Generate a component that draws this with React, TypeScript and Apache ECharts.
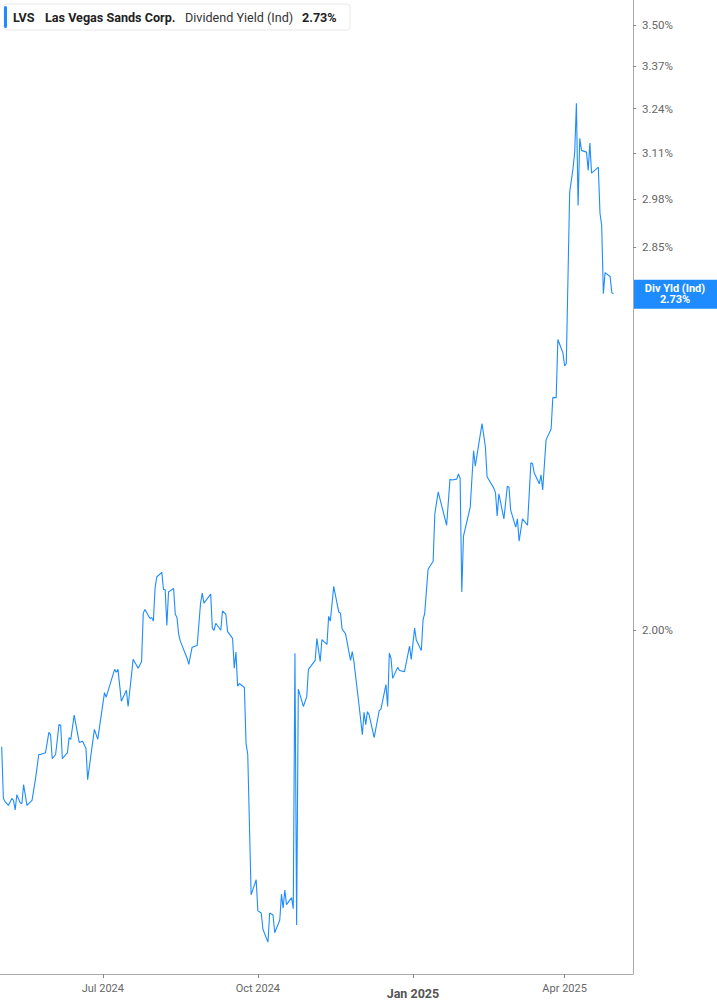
import React, { useEffect, useRef } from "react";
import * as echarts from "echarts";

const ticker = "LVS";
const company = "Las Vegas Sands Corp.";
const metric = "Dividend Yield (Ind)";
const axisTag = "Div Yld (Ind)";
const lastValue = 2.73;

const dates = [
  "2024-05-02","2024-05-03","2024-05-04","2024-05-06","2024-05-08","2024-05-09","2024-05-10","2024-05-11","2024-05-13","2024-05-14",
  "2024-05-15","2024-05-17","2024-05-20","2024-05-22","2024-05-24","2024-05-25","2024-05-28","2024-05-30","2024-05-31","2024-06-01",
  "2024-06-03","2024-06-05","2024-06-06","2024-06-07","2024-06-10","2024-06-11","2024-06-12","2024-06-14","2024-06-17","2024-06-19",
  "2024-06-21","2024-06-22","2024-06-26","2024-06-28","2024-07-02","2024-07-03","2024-07-08","2024-07-09","2024-07-10","2024-07-12",
  "2024-07-15","2024-07-16","2024-07-19","2024-07-22","2024-07-24","2024-07-25","2024-07-26","2024-07-29","2024-07-30","2024-07-31",
  "2024-08-01","2024-08-02","2024-08-05","2024-08-06","2024-08-07","2024-08-08","2024-08-09","2024-08-12","2024-08-13","2024-08-14",
  "2024-08-15","2024-08-16","2024-08-20","2024-08-21","2024-08-23","2024-08-26","2024-08-28","2024-08-29","2024-08-30","2024-09-03",
  "2024-09-04","2024-09-05","2024-09-06","2024-09-09","2024-09-10","2024-09-12","2024-09-13","2024-09-16","2024-09-17","2024-09-18",
  "2024-09-19","2024-09-20","2024-09-23","2024-09-24","2024-09-25","2024-09-27","2024-09-30","2024-10-01","2024-10-03","2024-10-04",
  "2024-10-07","2024-10-08","2024-10-10","2024-10-11","2024-10-14","2024-10-15","2024-10-16","2024-10-17","2024-10-18","2024-10-21",
  "2024-10-22","2024-10-23","2024-10-24","2024-10-25","2024-10-28","2024-10-30","2024-10-31","2024-11-04","2024-11-05","2024-11-07",
  "2024-11-08","2024-11-11","2024-11-12","2024-11-13","2024-11-15","2024-11-18","2024-11-19","2024-11-20","2024-11-22","2024-11-25",
  "2024-11-26","2024-11-27","2024-11-30","2024-12-02","2024-12-03","2024-12-04","2024-12-05","2024-12-06","2024-12-09","2024-12-12",
  "2024-12-13","2024-12-16","2024-12-17","2024-12-18","2024-12-19","2024-12-20","2024-12-23","2024-12-24","2024-12-27","2024-12-30",
  "2024-12-31","2025-01-02","2025-01-03","2025-01-06","2025-01-07","2025-01-08","2025-01-10","2025-01-13","2025-01-14","2025-01-16",
  "2025-01-21","2025-01-23","2025-01-24","2025-01-27","2025-01-28","2025-01-29","2025-01-30","2025-01-31","2025-02-04","2025-02-06",
  "2025-02-07","2025-02-11","2025-02-13","2025-02-14","2025-02-18","2025-02-19","2025-02-20","2025-02-21","2025-02-24","2025-02-26",
  "2025-02-27","2025-02-28","2025-03-03","2025-03-04","2025-03-05","2025-03-07","2025-03-10","2025-03-12","2025-03-13","2025-03-14",
  "2025-03-17","2025-03-18","2025-03-19","2025-03-21","2025-03-24","2025-03-25","2025-03-27","2025-03-28","2025-03-31","2025-04-01",
  "2025-04-02","2025-04-04","2025-04-06","2025-04-07","2025-04-08","2025-04-09","2025-04-10","2025-04-11","2025-04-14","2025-04-15",
  "2025-04-16","2025-04-17","2025-04-21","2025-04-22","2025-04-23","2025-04-24","2025-04-25","2025-04-28","2025-04-29","2025-04-30"
];

const yields = [
  1.796,1.712,1.707,1.701,1.712,1.709,1.694,1.718,1.705,1.704,
  1.734,1.701,1.709,1.742,1.783,1.783,1.786,1.820,1.816,1.776,
  1.783,1.833,1.832,1.776,1.786,1.811,1.808,1.849,1.803,1.805,
  1.793,1.742,1.825,1.808,1.888,1.880,1.929,1.924,1.929,1.873,
  1.892,1.864,1.947,1.931,1.943,2.032,2.039,2.022,2.024,2.017,
  2.079,2.101,2.110,2.077,2.077,2.009,2.072,2.079,2.030,2.024,
  1.993,1.980,1.949,1.938,1.969,1.972,2.051,2.070,2.051,2.068,
  2.004,2.000,2.013,2.000,2.036,2.030,1.998,1.985,1.931,1.960,
  1.899,1.904,1.897,1.801,1.783,1.566,1.588,1.543,1.540,1.517,
  1.499,1.540,1.537,1.512,1.530,1.567,1.547,1.573,1.552,1.562,
  1.546,1.958,1.523,1.894,1.864,1.881,1.929,1.945,1.985,1.943,
  1.983,1.974,2.026,2.017,2.083,2.034,2.032,2.002,1.994,1.945,
  1.961,1.943,1.867,1.816,1.854,1.833,1.855,1.850,1.811,1.857,
  1.859,1.902,1.864,1.958,1.949,1.913,1.933,1.927,1.925,1.971,
  1.947,2.004,1.982,1.963,2.019,2.032,2.116,2.132,2.227,2.273,
  2.204,2.300,2.298,2.300,2.311,2.302,2.072,2.182,2.241,2.361,
  2.328,2.421,2.370,2.305,2.281,2.271,2.223,2.269,2.217,2.285,
  2.283,2.235,2.200,2.217,2.172,2.217,2.204,2.335,2.333,2.313,
  2.290,2.309,2.277,2.385,2.409,2.480,2.480,2.617,2.585,2.554,
  2.559,2.998,3.066,3.112,3.256,2.962,3.152,3.117,3.112,3.060,
  3.138,3.052,3.069,2.941,2.908,2.730,2.784,2.774,2.733,2.730
];

const yTicks = [3.5, 3.37, 3.24, 3.11, 2.98, 2.85, 2.0];
const yRange = [1.4555, 3.582];
const xTicks = ["2024-07-01", "2024-10-01", "2025-01-01", "2025-04-01"];
const xTickLabels = ["Jul 2024", "Oct 2024", "Jan 2025", "Apr 2025"];
const boldTick = "Jan 2025";
const xRange = ["2024-05-01T00:00", "2025-05-11T14:00"];

const BLUE = "#1e8cff";
const FONT = "Roboto, 'Noto Sans', sans-serif";

function ts(s: string): number {
  const [d, t] = s.split("T");
  const [y, m, dd] = d.split("-").map(Number);
  let hh = 0, mm = 0;
  if (t) {
    const p = t.split(":").map(Number);
    hh = p[0]; mm = p[1];
  }
  return Date.UTC(y, m - 1, dd, hh, mm);
}

export default function App() {
  const ref = useRef<HTMLDivElement>(null);

  useEffect(() => {
    if (!ref.current) return;
    const chart = echarts.init(ref.current, null, { renderer: "svg" });
    const xTickTs = xTicks.map(ts);
    const seriesData = dates.map((d, i) => [ts(d), Math.log(yields[i])]);
    const yTickLn = yTicks.map((v) => Math.log(v));

    chart.setOption({
      animation: false,
      grid: { left: 0, right: 84, top: 0, bottom: 31, containLabel: false },
      xAxis: {
        type: "value",
        min: ts(xRange[0]),
        max: ts(xRange[1]),
        splitLine: { show: false },
        axisLine: { show: true, onZero: false, lineStyle: { color: "#ababab", width: 1 } },
        axisTick: {
          show: true,
          customValues: xTickTs,
          length: 4,
          lineStyle: { color: "#888" },
        },
        axisLabel: {
          customValues: xTickTs,
          margin: 9,
          formatter: (v: number) => {
            const idx = xTickTs.findIndex((t) => Math.abs(t - v) < 43200000);
            const label = idx >= 0 ? xTickLabels[idx] : "";
            return label === boldTick ? "{b|" + label + "}" : "{a|" + label + "}";
          },
          rich: {
            a: { fontFamily: FONT, fontSize: 11, color: "#666" },
            b: { fontFamily: FONT, fontSize: 12.5, fontWeight: "bold", color: "#555", padding: [4, 0, 0, 0] },
          },
        },
      },
      yAxis: {
        type: "value",
        position: "right",
        min: Math.log(yRange[0]),
        max: Math.log(yRange[1]),
        splitLine: { show: false },
        axisLine: { show: true, onZero: false, lineStyle: { color: "#ababab", width: 1 } },
        axisTick: {
          show: true,
          customValues: yTickLn,
          length: 3,
          lineStyle: { color: "#888" },
        },
        axisLabel: {
          customValues: yTickLn,
          margin: 9,
          fontFamily: FONT,
          fontSize: 11.5,
          color: "#666",
          formatter: (v: number) => Math.exp(v).toFixed(2) + "%",
        },
      },
      series: [
        {
          type: "line",
          data: seriesData,
          showSymbol: false,
          symbol: "none",
          lineStyle: { color: BLUE, width: 1.1 },
        },
      ],
    });

    const py = chart.convertToPixel({ yAxisIndex: 0 }, Math.log(lastValue)) as number;
    const axisX = chart.convertToPixel({ xAxisIndex: 0 }, ts(xRange[1])) as number;
    const HS = 12.6;

    chart.setOption({
      graphic: [
        {
          type: "group",
          children: [
            {
              type: "rect",
              shape: { x: 4, y: 4, width: 346, height: 26, r: 3 },
              style: { fill: "#fff", stroke: "#e8e8e8", lineWidth: 1 },
            },
            {
              type: "rect",
              shape: { x: 4, y: 6, width: 3, height: 22, r: 1.5 },
              style: { fill: BLUE },
            },
            {
              type: "text",
              x: 13,
              y: 17,
              style: { text: ticker, fontFamily: FONT, fontSize: HS, fontWeight: "bold", fill: "#222", verticalAlign: "middle" },
            },
            {
              type: "text",
              x: 45,
              y: 17,
              style: { text: company, fontFamily: FONT, fontSize: HS, fontWeight: "bold", fill: "#222", verticalAlign: "middle" },
            },
            {
              type: "text",
              x: 185,
              y: 17,
              style: { text: metric, fontFamily: FONT, fontSize: HS, fill: "#333", verticalAlign: "middle" },
            },
            {
              type: "text",
              x: 302,
              y: 17,
              style: { text: lastValue.toFixed(2) + "%", fontFamily: FONT, fontSize: HS, fontWeight: "bold", fill: "#222", verticalAlign: "middle" },
            },
          ],
        },
        {
          type: "group",
          children: [
            {
              type: "rect",
              shape: { x: axisX + 1, y: py - 14, width: 717 - axisX - 1, height: 29 },
              style: { fill: BLUE },
            },
            {
              type: "text",
              x: (axisX + 717) / 2,
              y: py - 5,
              style: { text: axisTag, fontFamily: FONT, fontSize: 11, fontWeight: "bold", fill: "#fff", align: "center", verticalAlign: "middle" },
            },
            {
              type: "text",
              x: (axisX + 717) / 2,
              y: py + 6,
              style: { text: lastValue.toFixed(2) + "%", fontFamily: FONT, fontSize: 11, fontWeight: "bold", fill: "#fff", align: "center", verticalAlign: "middle" },
            },
          ],
        },
      ],
    });

    return () => chart.dispose();
  }, []);

  return (
    <div
      ref={ref}
      style={{ position: "absolute", left: 0, top: 0, width: 717, height: 1005, background: "#fff" }}
    />
  );
}
